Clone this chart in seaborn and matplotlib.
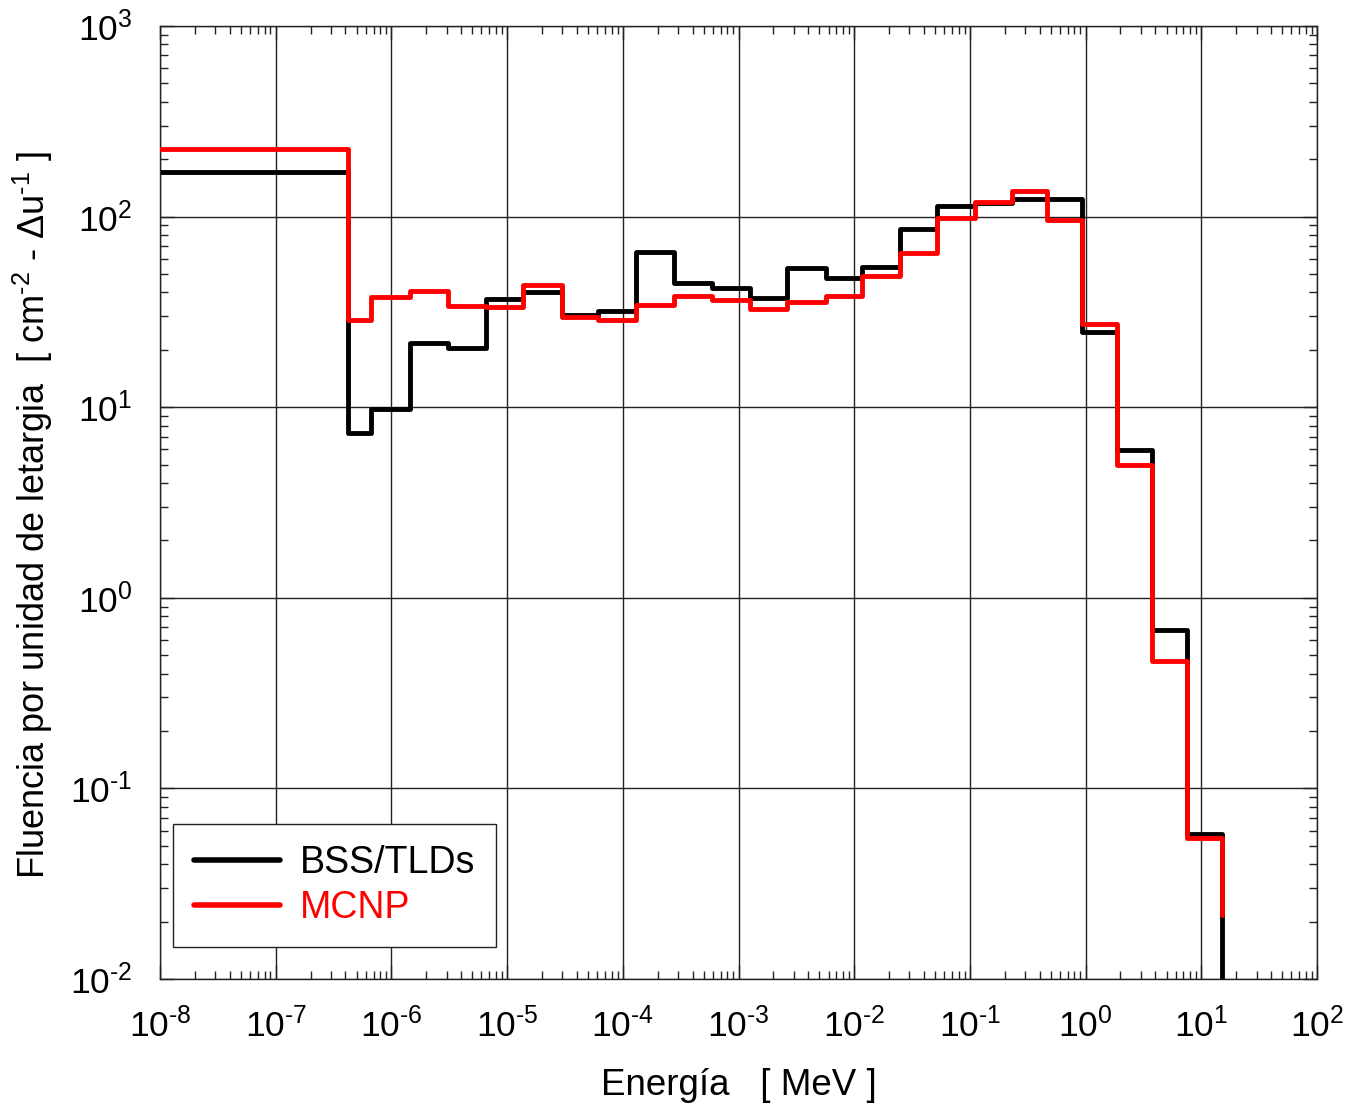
import numpy as np
import pandas as pd
import matplotlib
matplotlib.use("Agg")
import matplotlib.pyplot as plt
import seaborn as sns
from matplotlib.lines import Line2D
from matplotlib.ticker import LogLocator, FuncFormatter, NullFormatter

# Energy bin edges [MeV]
edges = [1e-8, 4.2e-7, 6.7e-7, 1.45e-6, 3.08e-6, 6.6e-6, 1.37e-5, 2.98e-5,
         6.1e-5, 1.3e-4, 2.77e-4, 5.9e-4, 1.26e-3, 2.62e-3, 5.65e-3, 1.17e-2,
         2.49e-2, 5.2e-2, 0.111, 0.231, 0.46, 0.93, 1.87, 3.75, 7.5, 15.1]

# Fluence per unit lethargy in each bin
bss_tlds = [172, 7.35, 9.8, 21.6, 20.4, 37.0, 40.4, 30.5, 32.0, 64.9, 44.7,
            42.0, 37.5, 53.5, 47.8, 54.6, 86.0, 114, 117.4, 123.7, 123.7,
            24.7, 5.97, 0.678, 0.0574]
mcnp = [226, 28.7, 38.0, 40.7, 34.1, 33.7, 43.8, 29.6, 28.7, 34.4, 38.3,
        36.5, 32.6, 35.8, 38.3, 48.8, 64.2, 98.0, 119.7, 136.2, 96.0,
        27.3, 4.98, 0.468, 0.0547]

# Value at the closing edge of each histogram
bss_tail = 1e-3
mcnp_tail = 0.0217

series_names = ["BSS/TLDs", "MCNP"]
series_colors = {"BSS/TLDs": "#000000", "MCNP": "#ff0000"}


def step_frame(name, values, tail):
    x = list(edges[:-1]) + [edges[-1], edges[-1]]
    y = list(values) + [values[-1], tail]
    return pd.DataFrame({"E": x, "phi": y, "serie": name})


df = pd.concat([step_frame("BSS/TLDs", bss_tlds, bss_tail),
                step_frame("MCNP", mcnp, mcnp_tail)], ignore_index=True)

sns.set_theme(style="white")
plt.rcParams["font.family"] = ["Liberation Sans", "DejaVu Sans"]
plt.rcParams["mathtext.fontset"] = "custom"
plt.rcParams["mathtext.rm"] = "Liberation Sans"
plt.rcParams["mathtext.it"] = "Liberation Sans:italic"
for key in ["text.color", "axes.labelcolor", "xtick.color", "ytick.color"]:
    plt.rcParams[key] = "black"

fig = plt.figure(figsize=(13.61, 11.09), dpi=100)
ax = fig.add_axes([0.1176, 0.1172, 0.8501, 0.8594])

for name in series_names:
    sub = df[df["serie"] == name]
    sns.lineplot(data=sub, x="E", y="phi", ax=ax, sort=False, estimator=None,
                 drawstyle="steps-post", color=series_colors[name],
                 linewidth=3.5, legend=False, zorder=3 if name == "MCNP" else 2)

ax.set_xscale("log")
ax.set_yscale("log")
ax.set_xlim(1e-8, 1e2)
ax.set_ylim(1e-2, 1e3)


def pow10(v, pos):
    e = int(round(np.log10(v)))
    sup = r"\text{-}%d" % abs(e) if e < 0 else "%d" % e
    return r"$\mathdefault{10^{%s}}$" % sup


ax.xaxis.set_major_locator(LogLocator(base=10, numticks=20))
ax.yaxis.set_major_locator(LogLocator(base=10, numticks=20))
ax.xaxis.set_minor_locator(LogLocator(base=10, subs=np.arange(2, 10), numticks=200))
ax.yaxis.set_minor_locator(LogLocator(base=10, subs=np.arange(2, 10), numticks=200))
ax.xaxis.set_major_formatter(FuncFormatter(pow10))
ax.yaxis.set_major_formatter(FuncFormatter(pow10))
ax.xaxis.set_minor_formatter(NullFormatter())
ax.yaxis.set_minor_formatter(NullFormatter())

ax.grid(True, which="major", color="#222222", linewidth=1.0)
ax.grid(False, which="minor")
ax.tick_params(which="both", direction="in", top=True, right=True,
               bottom=True, left=True, color="#222222")
ax.tick_params(which="major", length=10, width=1.0, labelsize=25.5, pad=20)
ax.tick_params(which="minor", length=6, width=1.0)
for sp in ax.spines.values():
    sp.set_color("#222222")
    sp.set_linewidth(1.0)

ax.set_xlabel("Energía   [ MeV ]", fontsize=26.5, labelpad=18)
ax.set_ylabel(r"Fluencia por unidad de letargia  [ cm$^{\text{-}2}$ - $\Delta$u$^{\text{-}1}$ ]",
              fontsize=26)
ax.yaxis.set_label_coords(-0.091, 0.487)

handles = [Line2D([0], [0], color=series_colors[n], linewidth=4) for n in series_names]
leg = ax.legend(handles, series_names, loc="lower left",
                bbox_to_anchor=(0.0112, 0.0336), fontsize=27, frameon=True,
                fancybox=False, edgecolor="#222222", framealpha=1,
                handlelength=2.3, handletextpad=0.53, borderpad=0.55,
                labelspacing=0.25, borderaxespad=0)
leg.get_frame().set_linewidth(1.0)
for txt, n in zip(leg.get_texts(), series_names):
    txt.set_color(series_colors[n])

fig.savefig("out.png", dpi=100)
